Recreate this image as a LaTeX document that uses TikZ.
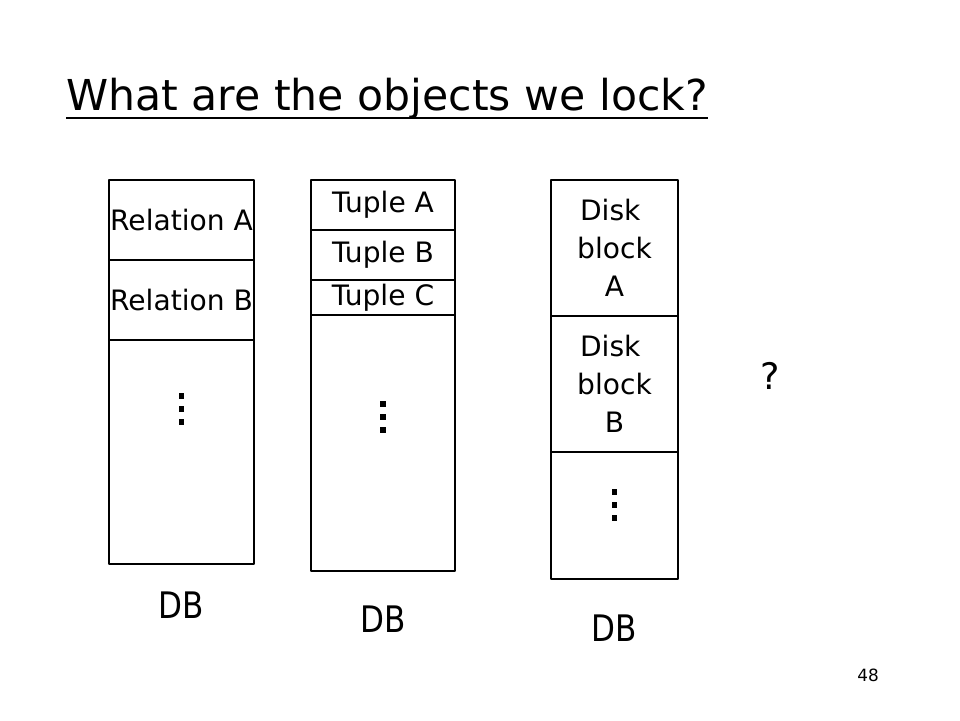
\documentclass[tikz,border=0pt]{standalone}
\usepackage{fontspec}
\setmainfont{DejaVu Sans}
\newfontfamily\narrowsans{DejaVu Sans}[FakeStretch=0.85]
\usetikzlibrary{positioning}
\tikzset{
	cell/.style={draw, line width=1.1pt, inner sep=0pt, outer sep=0pt, align=center, font=\fontsize{20}{27}\selectfont},
	relcol/.style={cell, minimum width=3.625cm},
	tupcol/.style={cell, minimum width=3.6cm},
	diskcol/.style={cell, minimum width=3.175cm},
	dblabel/.style={font=\narrowsans\fontsize{26}{30}\selectfont},
	vdotsq/.pic={
		\foreach \k in {-1,0,1}{
			\fill (-0.07,\k*0.325-0.07) rectangle ++(0.14,0.14);
		};
	}
}
\begin{document}
\begin{tikzpicture}[line join=round, line cap=round, scale=1]
	\useasboundingbox (0,0) rectangle (24,-18);
	% title
	\node[anchor=base west, inner sep=0pt, font=\fontsize{30.3}{36}\selectfont] (title) at (1.65,-2.75) {What are the objects we lock?};
	\draw[line width=2.1pt, line cap=butt] ([yshift=-0.2cm]title.base west)--([yshift=-0.2cm]title.base east);
	% relations
	\node[relcol, minimum height=2cm, anchor=north west] (relA) at (2.725,-4.5) {Relation A};
	\node[relcol, minimum height=2cm, below=0pt of relA] (relB) {Relation B};
	\node[relcol, minimum height=5.6cm, below=0pt of relB] (relR) {};
	\pic at ([yshift=-1.725cm]relR.north) {vdotsq};
	\node[dblabel] (dbA) at ([yshift=-1.025cm]relR.south) {DB};
	% tuples
	\node[tupcol, minimum height=1.25cm, anchor=north west] (tupA) at (7.775,-4.5) {Tuple A};
	\node[tupcol, minimum height=1.25cm, below=0pt of tupA] (tupB) {Tuple B};
	\node[tupcol, minimum height=0.875cm, below=0pt of tupB] (tupC) {Tuple C};
	\node[tupcol, minimum height=6.4cm, below=0pt of tupC] (tupR) {};
	\pic at ([yshift=-2.55cm]tupR.north) {vdotsq};
	\node[dblabel] (dbB) at ([yshift=-1.2cm]tupR.south) {DB};
	% disk blocks
	\node[diskcol, minimum height=3.4cm, anchor=north west] (blkA) at (13.775,-4.5) {Disk\kern.3em\\block\\A};
	\node[diskcol, minimum height=3.4cm, below=0pt of blkA] (blkB) {Disk\kern.3em\\block\\B};
	\node[diskcol, minimum height=3.175cm, below=0pt of blkB] (blkR) {};
	\pic at ([yshift=-1.325cm]blkR.north) {vdotsq};
	\node[dblabel] (dbC) at ([yshift=-1.225cm]blkR.south) {DB};
	% others
	\node[font=\fontsize{26}{30}\selectfont] (other) at (19.25,-9.4) {?};
	\node[font=\fontsize{12}{14}\selectfont] (page) at (21.7,-16.875) {48};
\end{tikzpicture}
\end{document}
